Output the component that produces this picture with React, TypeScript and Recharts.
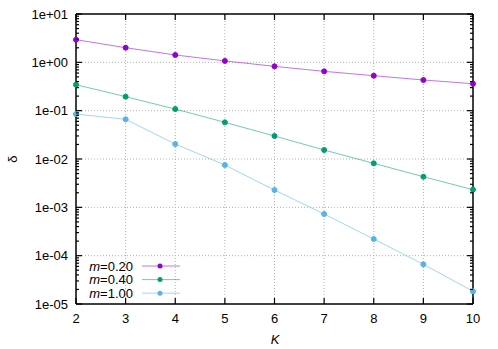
import React from "react";
import { Line, LineChart, ReferenceLine, XAxis, YAxis } from "recharts";

const kValues = [2, 3, 4, 5, 6, 7, 8, 9, 10];
const m020 = [2.94, 2.01, 1.42, 1.07, 0.826, 0.651, 0.529, 0.431, 0.361];
const m040 = [0.345, 0.195, 0.108, 0.0574, 0.0299, 0.01535, 0.00814, 0.0043, 0.00232];
const m100 = [0.0853, 0.0662, 0.0204, 0.0075, 0.00228, 0.000727, 0.000221, 0.0000662, 0.0000183];
const mLabels = ["0.20", "0.40", "1.00"];
const colors = ["#9400d3", "#009e73", "#56b4e9"];

const xTicks = [2, 3, 4, 5, 6, 7, 8, 9, 10];
const yMajor = [1e-5, 1e-4, 1e-3, 1e-2, 1e-1, 1, 10];

const data = kValues.map((k, i) => ({ K: k, a: m020[i], b: m040[i], c: m100[i] }));

// minor ticks 2..9 in each decade
const yTicks: number[] = [];
yMajor.forEach((d, i) => {
  yTicks.push(d);
  if (i < yMajor.length - 1) for (let j = 2; j <= 9; j++) yTicks.push(d * j);
});

const W = 498;
const H = 349;
const MARGIN = { top: 14, right: 25, bottom: 0, left: 0 };
const PLOT_RIGHT = W - MARGIN.right;
const PLOT_TOP = MARGIN.top;
const TM = 8;

const isMajor = (v: number) => {
  const l = Math.log10(v);
  return Math.abs(l - Math.round(l)) < 1e-6;
};

const fmt = (v: number) => {
  const e = Math.round(Math.log10(v));
  const s = e < 0 ? "-" : "+";
  return `1e${s}${String(Math.abs(e)).padStart(2, "0")}`;
};

const LeftTick = (props: any) => {
  const { x, y, payload } = props;
  const ax = x + TM;
  const major = isMajor(payload.value);
  const len = major ? 6 : 3;
  return (
    <g>
      <line x1={ax} x2={ax + len} y1={y} y2={y} stroke="#000" strokeWidth={1.2} />
      <line x1={PLOT_RIGHT} x2={PLOT_RIGHT - len} y1={y} y2={y} stroke="#000" strokeWidth={1.2} />
      {major && (
        <text x={x} y={y + 4.5} textAnchor="end" fontSize={13} fontFamily="Liberation Sans" fill="#000">
          {fmt(payload.value)}
        </text>
      )}
    </g>
  );
};

const BottomTick = (props: any) => {
  const { x, y, payload } = props;
  const ay = y - TM;
  return (
    <g>
      <line x1={x} x2={x} y1={ay} y2={ay - 6} stroke="#000" strokeWidth={1.2} />
      <line x1={x} x2={x} y1={PLOT_TOP} y2={PLOT_TOP + 6} stroke="#000" strokeWidth={1.2} />
      <text x={x} y={y + 10.5} textAnchor="middle" fontSize={13} fontFamily="Liberation Sans" fill="#000">
        {payload.value}
      </text>
    </g>
  );
};

function Overlay() {
  return (
    <svg width={W} height={H} style={{ position: "absolute", left: 0, top: 0, pointerEvents: "none" }}>
      <text x={275} y={344} textAnchor="middle" fontSize={13} fontStyle="italic" fontFamily="Liberation Sans" fill="#000">
        K
      </text>
      <text x={17} y={159} transform="rotate(-90 17 159)" textAnchor="middle" fontSize={13} fontFamily="Liberation Sans" fill="#000">
        δ
      </text>
      {mLabels.map((m, i) => {
        const cy = 266 + i * 13.6;
        return (
          <g key={m}>
            <text x={133} y={cy + 4.5} textAnchor="end" fontSize={13} fontFamily="Liberation Sans" fill="#000">
              <tspan fontStyle="italic">m</tspan>={m}
            </text>
            <line x1={142} x2={180} y1={cy} y2={cy} stroke={colors[i]} strokeOpacity={0.55} />
            <circle cx={160} cy={cy} r={2.5} fill={colors[i]} />
          </g>
        );
      })}
    </svg>
  );
}

export default function App() {
  const keys = ["a", "b", "c"];
  return (
    <div style={{ position: "absolute", left: 0, top: 0 }}>
      <LineChart width={W} height={H} data={data} margin={MARGIN}>
        {yMajor.slice(1, -1).map((v) => (
          <ReferenceLine key={"y" + v} y={v} stroke="#b0b0b0" strokeDasharray="1 2" />
        ))}
        {xTicks.slice(1, -1).map((v) => (
          <ReferenceLine key={"x" + v} x={v} stroke="#b0b0b0" strokeDasharray="1 2" />
        ))}
        <ReferenceLine y={10} ifOverflow="visible" stroke="#000" strokeWidth={1.5} />
        <ReferenceLine x={10} ifOverflow="visible" stroke="#000" strokeWidth={1.5} />
        <XAxis
          dataKey="K"
          type="number"
          domain={[2, 10]}
          ticks={xTicks}
          interval={0}
          height={45}
          tickSize={0}
          tickMargin={TM}
          tickLine={false}
          axisLine={{ stroke: "#000", strokeWidth: 1.5 }}
          tick={BottomTick}
        />
        <YAxis
          scale="log"
          type="number"
          domain={[1e-5, 10]}
          allowDataOverflow
          ticks={yTicks}
          interval={0}
          width={76}
          tickSize={0}
          tickMargin={TM}
          tickLine={false}
          axisLine={{ stroke: "#000", strokeWidth: 1.5 }}
          tick={LeftTick}
        />
        {keys.map((k, i) => (
          <Line
            key={k}
            dataKey={k}
            name={`m=${mLabels[i]}`}
            stroke={colors[i]}
            strokeOpacity={0.55}
            strokeWidth={1}
            dot={{ r: 2.5, fill: colors[i], stroke: colors[i], strokeOpacity: 1 }}
            isAnimationActive={false}
          />
        ))}
      </LineChart>
      <Overlay />
    </div>
  );
}
